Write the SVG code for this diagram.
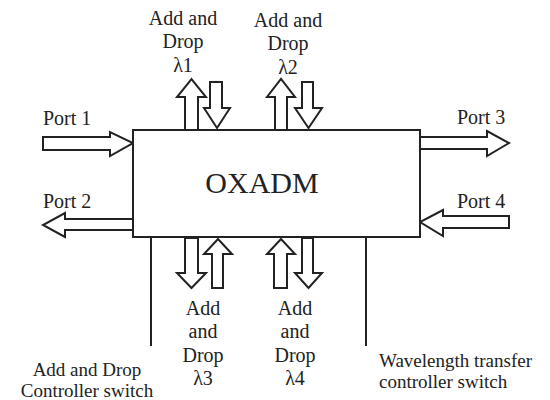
<svg xmlns="http://www.w3.org/2000/svg" width="550" height="400" viewBox="0 0 550 400">
<style>
.box{fill:#fff;stroke:#222;stroke-width:2}
.arr{fill:#fff;stroke:#222;stroke-width:2;stroke-linejoin:miter}
.ln{stroke:#222;stroke-width:2;fill:none}
text{font-family:"Liberation Serif","Times New Roman",serif;fill:#222;font-size:20px}
.c{text-anchor:middle}
.s{font-size:19px}
</style>
<rect width="550" height="400" fill="#fff"/>
<g id="connectors">
<polygon class="arr" points="185,130 185,97 177,97 191.5,79 206,97 198,97 198,130"/>
<polygon class="arr" points="210,82 222,82 222,108 230,108 217,128 204,108 210,108"/>
<polygon class="arr" points="275,130 275,97 267,97 281,79 295,97 287,97 287,130"/>
<polygon class="arr" points="302,82 313,82 313,108 322,108 308.5,128 295,108 302,108"/>
<polygon class="arr" points="185,238 198,238 198,273 206,273 191.5,288 177,273 185,273"/>
<polygon class="arr" points="212,288 212,254 204,254 218,239 232,254 223,254 223,288"/>
<polygon class="arr" points="274,288 274,254 267,254 281,239 295,254 287,254 287,288"/>
<polygon class="arr" points="302,238 313,238 313,273 322,273 308.5,288 295,273 302,273"/>
<polygon class="arr" points="43,137 110,137 110,132 133,143 110,156 110,150 43,150"/>
<polygon class="arr" points="133,219 65,219 65,213 43,225 65,237 65,230 133,230"/>
<polygon class="arr" points="420,137 487,137 487,131 509,143 487,156 487,149 420,149"/>
<polygon class="arr" points="509,216 443,216 443,210 420,222 443,236 443,228 509,228"/>
<line class="ln" x1="151" y1="237" x2="151" y2="346"/>
<line class="ln" x1="366" y1="237" x2="366" y2="346"/>
</g>
<g id="oxadm">
<rect class="box" x="133" y="130" width="287" height="107"/>
<text class="c" x="262" y="193" style="font-size:30px">OXADM</text>
</g>
<g id="label-l1">
<text class="c" x="183" y="25">Add and</text>
<text class="c" x="183" y="48">Drop</text>
<text class="c" x="183" y="72">λ1</text>
</g>
<g id="label-l2">
<text class="c" x="288" y="27">Add and</text>
<text class="c" x="288" y="50">Drop</text>
<text class="c" x="288" y="74">λ2</text>
</g>
<g id="label-l3">
<text class="c" x="203" y="315">Add</text>
<text class="c" x="203" y="338">and</text>
<text class="c" x="203" y="362">Drop</text>
<text class="c" x="203" y="385">λ3</text>
</g>
<g id="label-l4">
<text class="c" x="295" y="315">Add</text>
<text class="c" x="295" y="338">and</text>
<text class="c" x="295" y="362">Drop</text>
<text class="c" x="295" y="385">λ4</text>
</g>
<g id="port1"><text x="43" y="125">Port 1</text></g>
<g id="port2"><text x="43" y="208">Port 2</text></g>
<g id="port3"><text x="457" y="124">Port 3</text></g>
<g id="port4"><text x="457" y="208">Port 4</text></g>
<g id="add-drop-controller">
<text class="c s" x="87" y="376">Add and Drop</text>
<text class="c s" x="87" y="397">Controller switch</text>
</g>
<g id="wavelength-controller">
<text class="s" x="379" y="367">Wavelength transfer</text>
<text class="s" x="379" y="388">controller switch</text>
</g>
</svg>
